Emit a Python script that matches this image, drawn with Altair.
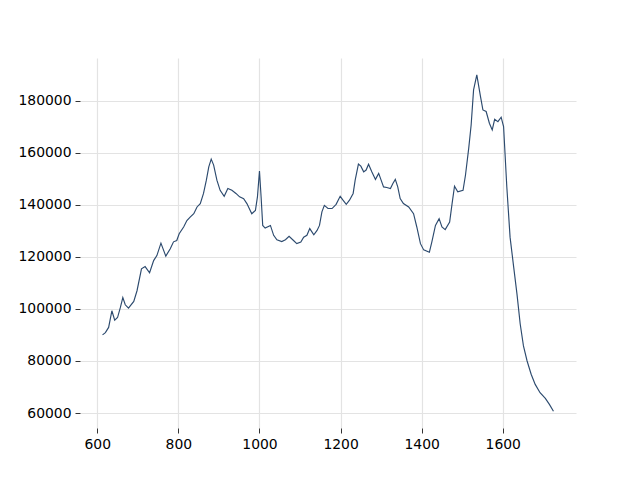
import altair as alt
import pandas as pd

wavenumber = [613, 620, 628, 636, 643, 650, 657, 663, 669, 677, 690, 698, 709, 718, 729,
              739, 747, 757, 769, 780, 788, 796, 802, 813, 821, 829, 838, 846, 854, 862,
              869, 875, 881, 887, 895, 903, 913, 922, 932, 942, 951, 961, 969, 981, 990,
              995, 1000, 1004, 1008, 1014, 1027, 1035, 1043, 1055, 1064, 1073, 1084, 1092,
              1102, 1109, 1117, 1124, 1134, 1142, 1148, 1154, 1160, 1169, 1179, 1189, 1199,
              1206, 1214, 1222, 1231, 1236, 1244, 1250, 1257, 1263, 1269, 1277, 1286, 1294,
              1300, 1306, 1314, 1323, 1329, 1335, 1341, 1347, 1355, 1368, 1380, 1388, 1397,
              1405, 1419, 1425, 1434, 1443, 1450, 1458, 1469, 1475, 1481, 1489, 1502, 1508,
              1516, 1522, 1528, 1536, 1545, 1551, 1559, 1567, 1574, 1580, 1588, 1596, 1602,
              1610, 1618, 1627, 1635, 1643, 1651, 1660, 1670, 1680, 1692, 1705, 1715, 1725]

intensity = [90050, 90900, 92900, 99300, 95700, 96700, 100600, 104400, 101600, 100300,
             102900, 107000, 115400, 116300, 113900, 118600, 120500, 125300, 120300, 123100,
             125800, 126300, 128900, 131500, 134000, 135300, 136600, 139200, 140500, 144400,
             149500, 154600, 157600, 155300, 149500, 145600, 143300, 146300, 145600, 144400,
             143100, 142400, 140500, 136600, 137900, 143100, 153000, 143100, 132100, 131100,
             132100, 128300, 126600, 125900, 126600, 127900, 126300, 125100, 125700, 127600,
             128300, 130900, 128500, 130200, 132100, 137300, 139800, 138600, 138600, 140200,
             143300, 141800, 140200, 141800, 144400, 149500, 155700, 154900, 152700, 153400,
             155600, 152700, 149800, 152100, 149500, 146900, 146700, 146300, 148200, 149800,
             146900, 142400, 140500, 139200, 136600, 131500, 125100, 122700, 121800, 125700,
             132100, 134700, 131500, 130500, 133400, 140500, 147200, 145000, 145600, 151400,
             161700, 170700, 184200, 190000, 181700, 176500, 175900, 171400, 168800, 172900,
             172000, 173700, 170100, 146900, 127600, 116000, 105800, 94200, 85800, 80000,
             74900, 71000, 67800, 65600, 63300, 60700]

x_ticks = [600, 800, 1000, 1200, 1400, 1600]
y_ticks = [60000, 80000, 100000, 120000, 140000, 160000, 180000]

df = pd.DataFrame({"x": wavenumber, "y": intensity})

xr = max(wavenumber) - min(wavenumber)
yr = max(intensity) - min(intensity)
x_dom = [min(wavenumber) - 0.05 * xr, max(wavenumber) + 0.05 * xr]
y_dom = [min(intensity) - 0.05 * yr, max(intensity) + 0.05 * yr]

axis_common = dict(
    domain=False,
    grid=True,
    gridColor="#e3e3e3",
    gridWidth=1.2,
    tickColor="#000000",
    tickSize=5,
    tickWidth=0.8,
    labelColor="#000000",
    labelFont="DejaVu Sans",
    labelFontSize=13.9,
    labelPadding=4,
    title=None,
    format="d",
)

chart = (
    alt.Chart(df)
    .mark_line(color="#2c4a6e", strokeWidth=1.15)
    .encode(
        x=alt.X("x:Q", scale=alt.Scale(domain=x_dom, nice=False, zero=False),
                axis=alt.Axis(values=x_ticks, **axis_common)),
        y=alt.Y("y:Q", scale=alt.Scale(domain=y_dom, nice=False, zero=False),
                axis=alt.Axis(values=y_ticks, **axis_common)),
    )
    .properties(
        width=496,
        height=370,
        autosize=alt.AutoSizeParams(type="none"),
        padding={"left": 72, "top": 50, "right": 56, "bottom": 44},
    )
    .configure_view(stroke=None)
)

chart.save("out.html", embed_options={"renderer": "svg", "actions": False})
